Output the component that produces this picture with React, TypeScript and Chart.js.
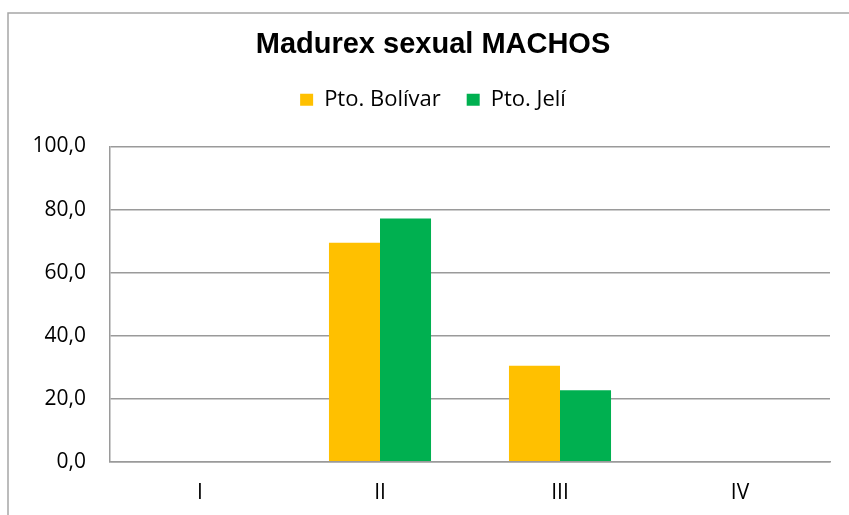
import React, { useEffect, useRef } from "react";
import { Chart, registerables } from "chart.js";

Chart.register(...registerables);

const categories = ["I", "II", "III", "IV"];
const seriesNames = ["Pto. Bolívar", "Pto. Jelí"];
const bolivar = [0, 69.5, 30.5, 0];
const jeli = [0, 77.2, 22.7, 0];
const yTicks = [0, 20, 40, 60, 80, 100];
const titleText = "Madurex sexual MACHOS";

const YELLOW = "#FFC000";
const GREEN = "#00B050";
const GRID = "#9a9a9a";
const LABEL_FONT = "'Open Sans', 'Noto Sans', sans-serif";

const framePlugin = {
  id: "frame",
  beforeDraw(chart: any) {
    const ctx = chart.ctx;
    ctx.save();
    ctx.fillStyle = "#ffffff";
    ctx.fillRect(0, 0, chart.width, chart.height);
    ctx.strokeStyle = "#a6a6a6";
    ctx.lineWidth = 1.5;
    ctx.beginPath();
    ctx.moveTo(8, chart.height);
    ctx.lineTo(8, 13);
    ctx.lineTo(chart.width, 13);
    ctx.stroke();
    ctx.restore();
  },
};

export default function App() {
  const ref = useRef<HTMLCanvasElement | null>(null);

  useEffect(() => {
    if (!ref.current) return;
    const chart = new Chart(ref.current, {
      type: "bar",
      data: {
        labels: categories,
        datasets: [
          {
            label: seriesNames[0],
            data: bolivar,
            backgroundColor: YELLOW,
            borderWidth: 0,
            categoryPercentage: 0.567,
            barPercentage: 1.0,
          },
          {
            label: seriesNames[1],
            data: jeli,
            backgroundColor: GREEN,
            borderWidth: 0,
            categoryPercentage: 0.567,
            barPercentage: 1.0,
          },
        ],
      },
      options: {
        responsive: false,
        animation: false,
        layout: { padding: { left: 17, right: 0, top: 0, bottom: -10 } },
        plugins: {
          tooltip: { enabled: false },
          title: {
            display: true,
            text: titleText,
            color: "#000000",
            font: { family: "'Liberation Sans', Arial, sans-serif", size: 29, weight: "bold", lineHeight: 1.2 },
            padding: { top: 28, bottom: 0 },
          },
          legend: {
            display: true,
            position: "top",
            labels: {
              boxWidth: 13,
              boxHeight: 12,
              padding: 26,
              color: "#000000",
              font: { family: LABEL_FONT, size: 22 },
            },
          },
          subtitle: {
            display: true,
            text: "",
            weight: 500,
            font: { size: 1, lineHeight: 1.2 },
            padding: { top: 24.5, bottom: 0 },
          } as any,
        },
        scales: {
          x: {
            grid: { display: false, drawTicks: false },
            border: { display: true, color: GRID, width: 1.5 },
            ticks: {
              color: "#000000",
              padding: 19,
              font: { family: LABEL_FONT, size: 21 },
            },
          },
          y: {
            min: 0,
            max: 100,
            afterFit: (scale: any) => {
              scale.width = 93;
            },
            afterBuildTicks: (scale: any) => {
              scale.ticks = yTicks.map((v) => ({ value: v }));
            },
            grid: { color: GRID, lineWidth: 1.5, drawTicks: false },
            border: { display: true, color: GRID, width: 1.5 },
            ticks: {
              color: "#000000",
              padding: 24,
              font: { family: LABEL_FONT, size: 21 },
              callback: (v: any) => Number(v).toFixed(1).replace(".", ","),
            },
          },
          yRight: {
            position: "right",
            min: 0,
            max: 100,
            afterFit: (scale: any) => {
              scale.width = 19;
            },
            grid: { display: false, drawTicks: false },
            border: { display: false },
            ticks: { display: false },
          },
        },
      },
      plugins: [framePlugin],
    });
    return () => chart.destroy();
  }, []);

  return (
    <div style={{ position: "absolute", left: 0, top: 0, width: 849, height: 515 }}>
      <canvas ref={ref} width={849} height={515} style={{ width: 849, height: 515, display: "block" }} />
    </div>
  );
}
